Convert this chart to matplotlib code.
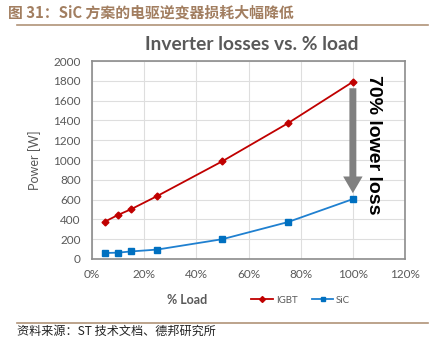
import matplotlib.pyplot as plt
from matplotlib.lines import Line2D

plt.rcParams['font.family'] = ['Lato', 'DejaVu Sans']

load = [0.05, 0.10, 0.15, 0.25, 0.50, 0.75, 1.00]
igbt = [378, 445, 503, 636, 988, 1370, 1790]
sic = [60, 64, 76, 95, 200, 372, 605]

xticks = [0, 0.2, 0.4, 0.6, 0.8, 1.0, 1.2]
xticklabels = ['0%', '20%', '40%', '60%', '80%', '100%', '120%']
yticks = list(range(0, 2001, 200))

red = '#c00000'
blue = '#0070c0'
brown = '#a27e60'
tickgray = '#595959'

fig = plt.figure(figsize=(4.36, 3.43), dpi=100)
ax = fig.add_axes([0.211, 0.245, 0.718, 0.577])

ax.plot(load, igbt, color=red, marker='D', markersize=3.5, lw=1.3)
ax.plot(load, sic, color='#1f80d0', marker='s', markersize=4, lw=1.3,
        markerfacecolor=blue, markeredgecolor=blue)

ax.set_xlim(0, 1.2)
ax.set_ylim(0, 2000)
ax.set_xticks(xticks)
ax.set_xticklabels(xticklabels)
ax.set_yticks(yticks)
ax.grid(True, color='#dedede', lw=0.8)
ax.set_axisbelow(True)
ax.tick_params(length=0, labelsize=8.5, colors=tickgray)
ax.tick_params(axis='y', pad=8)
ax.tick_params(axis='x', pad=7)
for s in ax.spines.values():
    s.set_color('#8c8c8c')
    s.set_linewidth(1.2)
ax.set_ylabel('Power [W]', fontsize=9, color=tickgray, labelpad=9)

ax.annotate('', xy=(1.0, 665), xytext=(1.0, 1725),
            arrowprops=dict(facecolor='#808080', edgecolor='none',
                            width=5, headwidth=14, headlength=12))
ax.text(1.08, 1150, '70% lower loss', rotation=-90, fontsize=14,
        fontweight='bold', ha='center', va='center', color='black',
        family='Liberation Sans', clip_on=False)

fig.text(0.578, 0.87, 'Inverter losses vs. % load', fontsize=13.8,
         fontweight='bold', color='#595959', ha='center', va='center')
fig.text(0.43, 0.125, '% Load', fontsize=9, fontweight='bold',
         color=tickgray, ha='center', va='center')

handles = [Line2D([], [], color=red, marker='D', markersize=3, lw=1.3),
           Line2D([], [], color='#1f80d0', marker='s', markersize=3.5, lw=1.3,
                  markerfacecolor=blue, markeredgecolor=blue)]
fig.legend(handles, ['IGBT', 'SiC'], ncol=2, frameon=False, fontsize=7,
           loc='center', bbox_to_anchor=(0.69, 0.125), handlelength=2.2,
           handletextpad=0.3, columnspacing=1.5, labelcolor=tickgray)

fig.text(0.018, 0.965, '图 31：SiC 方案的电驱逆变器损耗大幅降低', fontsize=10.7,
         fontweight='bold', color=brown, ha='left', va='center',
         family=['Noto Sans CJK SC', 'DejaVu Sans'])
fig.add_artist(Line2D([0.04, 0.982], [0.927, 0.927], color='#b09378', lw=1.2))
fig.add_artist(Line2D([0.04, 0.982], [0.058, 0.058], color='#b09378', lw=1.2))
fig.text(0.04, 0.035, '资料来源：ST 技术文档、德邦研究所', fontsize=8.7,
         color='#222222', ha='left', va='center', fontweight='light',
         family=['Noto Sans CJK SC', 'DejaVu Sans'])

fig.savefig('out.png', dpi=100)
